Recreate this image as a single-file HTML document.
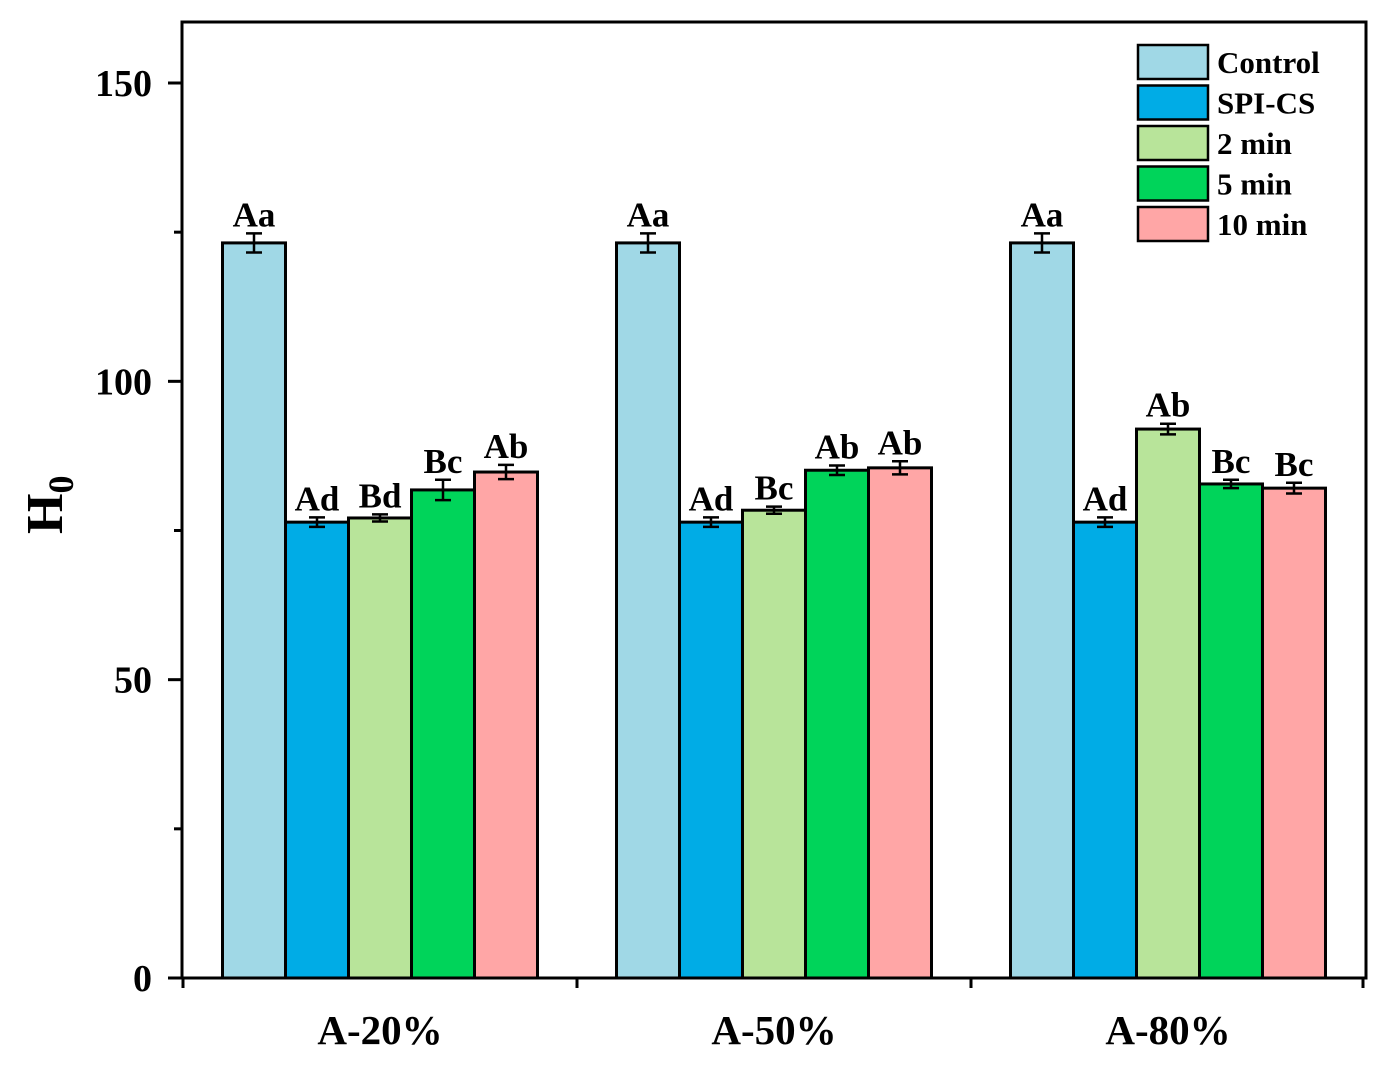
<!DOCTYPE html>
<html><head><meta charset="utf-8"><style>
body{margin:0;background:#fff;}
svg text{font-family:"Liberation Serif",serif;font-weight:bold;fill:#000;}
</style></head><body>
<svg id="chart" width="1383" height="1069" viewBox="0 0 1383 1069" xmlns="http://www.w3.org/2000/svg">
<g id="bars"></g>
<rect x="182" y="22" width="1184" height="956" fill="none" stroke="#000" stroke-width="3"/>
<g id="axes"></g>
<g id="legend"></g>
<text x="0" y="0" font-size="52" transform="translate(62,534) rotate(-90)">H<tspan font-size="36" dy="11">0</tspan></text>
</svg>
<script>
const categories=["A-20%","A-50%","A-80%"];
const seriesNames=["Control","SPI-CS","2 min","5 min","10 min"];
const control=[123.2,123.2,123.2];
const spics=[76.4,76.4,76.4];
const min2=[77.1,78.4,92.0];
const min5=[81.8,85.1,82.8];
const min10=[84.8,85.5,82.1];
const errControl=[1.6,1.6,1.6];
const errSpics=[0.8,0.8,0.8];
const err2=[0.6,0.6,0.9];
const err5=[1.7,0.8,0.7];
const err10=[1.2,1.1,0.9];
const lab2=["Bd","Bc","Ab"];
const lab5=["Bc","Ab","Bc"];
const lab10=["Ab","Ab","Bc"];
const labControl=["Aa","Aa","Aa"];
const labSpics=["Ad","Ad","Ad"];
const yTicks=[0,50,100,150];
const yMinor=[25,75,125];
const colors=["#a0d8e6","#00ace6","#b8e49a","#00d45a","#ffa6a6"];
const NS="http://www.w3.org/2000/svg";
const y=v=>978-v*(895/150);
const groupCenter=i=>380+i*394;
const barW=63;
function mk(tag,attrs,parent){const e=document.createElementNS(NS,tag);for(const k in attrs)e.setAttribute(k,attrs[k]);parent.appendChild(e);return e;}
const series=[control,spics,min2,min5,min10];
const errs=[errControl,errSpics,err2,err5,err10];
const labs=[labControl,labSpics,lab2,lab5,lab10];
const gb=document.getElementById('bars');
categories.forEach((c,i)=>{
  series.forEach((s,j)=>{
    const x0=groupCenter(i)-2.5*barW+j*barW;
    const r=mk('rect',{x:x0,y:y(s[i]),width:barW,height:978-y(s[i]),fill:colors[j],stroke:"#000","stroke-width":3},gb);
    
    
    const cx=x0+barW/2,e=errs[j][i];
    const eb=mk('path',{d:`M${cx},${y(s[i]+e)}V${y(s[i]-e)}M${cx-8},${y(s[i]+e)}H${cx+8}M${cx-8},${y(s[i]-e)}H${cx+8}`,stroke:"#000","stroke-width":2.5,fill:"none"},gb);
    
    
    const t=mk('text',{x:cx,y:y(s[i]+e)-7,"font-size":35,"text-anchor":"middle"},gb);
    t.textContent=labs[j][i];
    
    
  });
});
const ga=document.getElementById('axes');
yTicks.forEach(v=>{
  mk('line',{x1:168,x2:182,y1:y(v),y2:y(v),stroke:"#000","stroke-width":3},ga);
  const t=mk('text',{x:152,y:y(v)+13,"font-size":38,"text-anchor":"end"},ga);
  t.textContent=v;
  
  
});
yMinor.forEach(v=>{mk('line',{x1:174,x2:182,y1:y(v),y2:y(v),stroke:"#000","stroke-width":3},ga);});
categories.forEach((c,i)=>{
  const t=mk('text',{x:groupCenter(i),y:1044,"font-size":41,"text-anchor":"middle"},ga);
  t.textContent=c;
  
  
  mk('line',{x1:groupCenter(i)-197,x2:groupCenter(i)-197,y1:978,y2:988,stroke:"#000","stroke-width":3},ga);
});
mk('line',{x1:1363,x2:1363,y1:978,y2:988,stroke:"#000","stroke-width":3},ga);
const gl=document.getElementById('legend');
seriesNames.forEach((n,j)=>{
  const yy=45+j*40.5;
  const r=mk('rect',{x:1138,y:yy,width:70,height:34,fill:colors[j],stroke:"#000","stroke-width":2.5},gl);
  
  
  const t=mk('text',{x:1217,y:yy+28,"font-size":31},gl);
  t.textContent=n;
  
  
});
</script>
</body></html>
